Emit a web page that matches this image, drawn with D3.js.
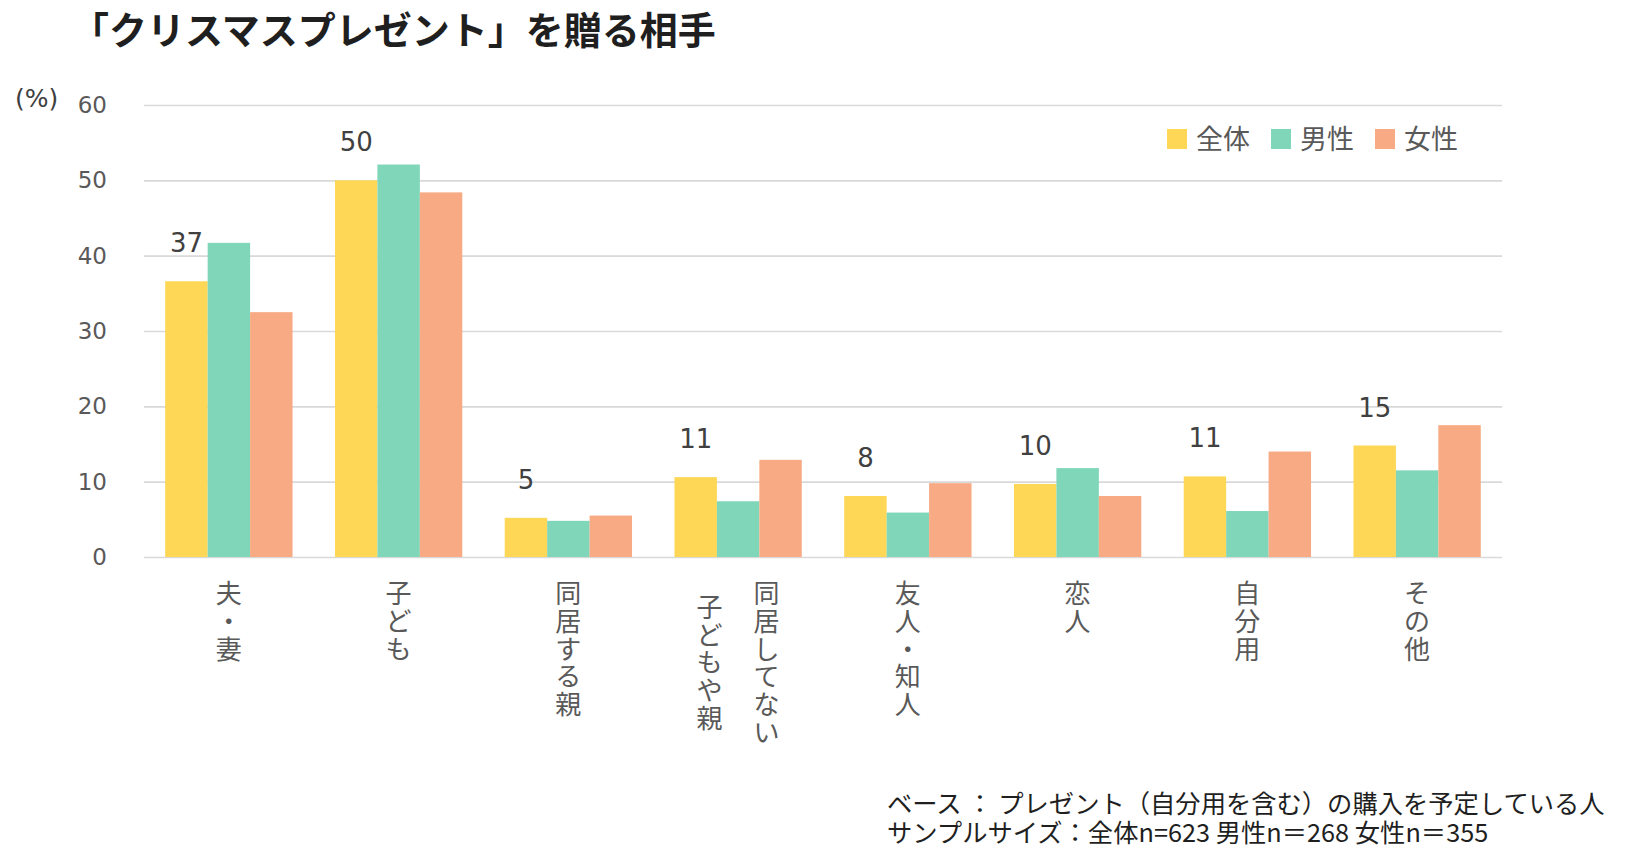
<!DOCTYPE html>
<html>
<head>
<meta charset="utf-8">
<script src="https://cdn.jsdelivr.net/npm/d3@7"></script>
<style>
  html, body { margin: 0; padding: 0; background: #fff; }
  svg { display: block; }
</style>
</head>
<body>
<div id="chart"></div>
<script>
// categories (line breaks mark the vertical columns, right to left)
const categories = ['夫・妻', '子ども', '同居する親', '同居してない\n子どもや親', '友人・知人', '恋人', '自分用', 'その他'];
const seriesNames = ['全体', '男性', '女性'];
const seriesColors = ['#fdd755', '#7fd6b8', '#f7aa84'];

const totalValues = [36.6, 50.0, 5.2, 10.6, 8.1, 9.7, 10.7, 14.8];
const maleValues = [41.7, 52.1, 4.8, 7.4, 5.9, 11.8, 6.1, 11.5];
const femaleValues = [32.5, 48.4, 5.5, 12.9, 9.8, 8.1, 14.0, 17.5];

const yTicks = [0, 10, 20, 30, 40, 50, 60];

const width = 1627;
const height = 868;
const margin = { top: 105, right: 125, bottom: 311, left: 144 };

const svg = d3.select('#chart')
  .append('svg')
  .attr('width', width)
  .attr('height', height)
  .attr('viewBox', [0, 0, width, height]);

const x = d3.scaleBand()
  .domain(categories)
  .range([margin.left, width - margin.right]);

const xInner = d3.scaleBand()
  .domain(seriesNames)
  .range([x.bandwidth() * 0.125, x.bandwidth() * 0.875]);

const y = d3.scaleLinear()
  .domain([0, 60])
  .range([height - margin.bottom, margin.top]);

const rows = categories.map((c, i) => ({
  category: c,
  values: [totalValues[i], maleValues[i], femaleValues[i]],
}));

// title
svg.append('text')
  .attr('x', 71)
  .attr('y', 44)
  .style('font', 'bold 38px "Noto Sans CJK JP"')
  .attr('fill', '#1f1f1f')
  .text('「クリスマスプレゼント」を贈る相手');

// y axis + gridlines
const yAxis = d3.axisLeft(y)
  .tickValues(yTicks)
  .tickSize(-(width - margin.left - margin.right))
  .tickPadding(37);

svg.append('g')
  .attr('transform', `translate(${margin.left},0)`)
  .call(yAxis)
  .call((g) => g.select('.domain').remove())
  .call((g) => g.selectAll('.tick line').attr('stroke', '#d9d9d9').attr('stroke-width', 1.6))
  .call((g) => g.selectAll('.tick text')
    .attr('fill', '#595959')
    .style('font', '23px "DejaVu Sans"'));

svg.append('text')
  .attr('x', 15)
  .attr('y', 107)
  .attr('fill', '#404040')
  .style('font', '25px "DejaVu Sans"')
  .text('(%)');

// bars
const groups = svg.append('g')
  .selectAll('g')
  .data(rows)
  .join('g')
  .attr('transform', (d) => `translate(${x(d.category)},0)`);

groups.selectAll('rect')
  .data((d) => d.values.map((v, i) => ({ key: seriesNames[i], value: v, color: seriesColors[i] })))
  .join('rect')
  .attr('x', (d) => xInner(d.key))
  .attr('y', (d) => y(d.value))
  .attr('width', xInner.bandwidth())
  .attr('height', (d) => y(0) - y(d.value))
  .attr('fill', (d) => d.color);

// value labels above 全体 bar
groups.append('text')
  .attr('x', xInner('全体') + xInner.bandwidth() / 2)
  .attr('y', (d) => y(d.values[0]) - 29)
  .attr('text-anchor', 'middle')
  .attr('fill', '#404040')
  .style('font', '26px "DejaVu Sans"')
  .text((d) => Math.round(d.values[0]));

// vertical category labels, one character at a time
const pitch = 27.7;
const colGap = 57;
const labelTop = 594;
const labels = svg.append('g')
  .attr('fill', '#595959')
  .style('font', '26px "Noto Sans CJK JP"')
  .attr('text-anchor', 'middle');

rows.forEach((d) => {
  const cols = d.category.split('\n');
  const longest = d3.max(cols, (c) => c.length);
  const cx = x(d.category) + x.bandwidth() / 2;
  cols.forEach((col, ci) => {
    const colX = cx + ((cols.length - 1) / 2 - ci) * colGap;
    const offset = (longest - col.length) * pitch / 2;
    Array.from(col).forEach((ch, k) => {
      labels.append('text')
        .attr('x', colX)
        .attr('y', labelTop + offset + k * pitch)
        .attr('dy', '0.35em')
        .text(ch);
    });
  });
});

// legend
const legendX = [1167, 1271, 1375];
const legend = svg.append('g')
  .selectAll('g')
  .data(seriesNames)
  .join('g')
  .attr('transform', (d, i) => `translate(${legendX[i]},129)`);

legend.append('rect')
  .attr('width', 20)
  .attr('height', 20)
  .attr('fill', (d, i) => seriesColors[i]);

legend.append('text')
  .attr('x', 29)
  .attr('y', 10)
  .attr('dy', '0.36em')
  .attr('fill', '#595959')
  .style('font', '27px "Noto Sans CJK JP"')
  .text((d) => d);

// footnote
const notes = [
  'ベース ： プレゼント（自分用を含む）の購入を予定している人',
  'サンプルサイズ：全体n=623 男性n＝268 女性n＝355',
];
svg.append('g')
  .style('font', '25.3px "Noto Sans CJK JP"')
  .attr('fill', '#1f1f1f')
  .selectAll('text')
  .data(notes)
  .join('text')
  .attr('x', 887)
  .attr('y', (d, i) => 813 + i * 29)
  .text((d) => d);
</script>
</body>
</html>
